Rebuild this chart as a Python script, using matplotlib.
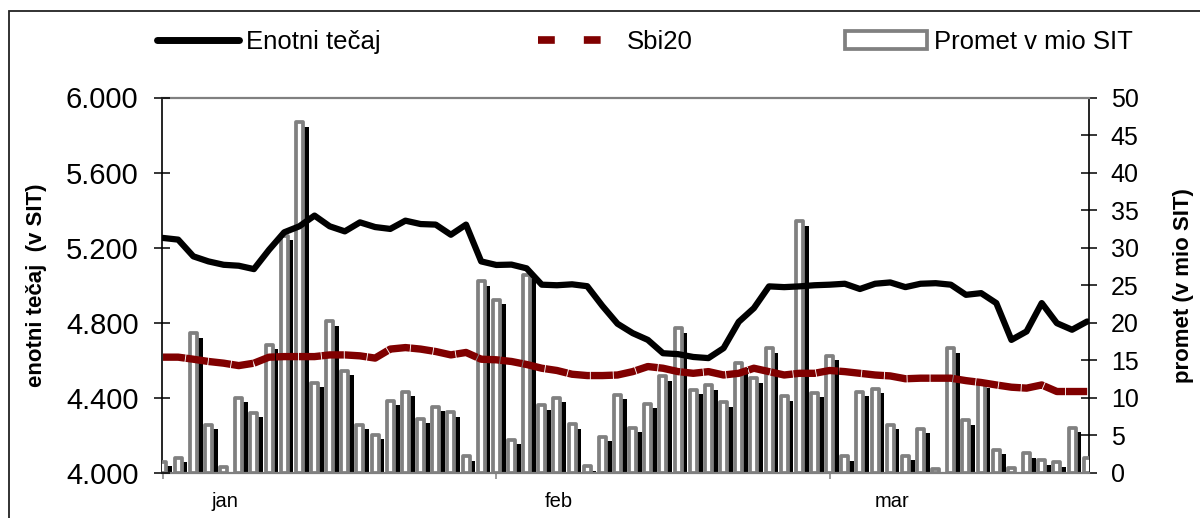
import numpy as np
import matplotlib
matplotlib.use("Agg")
import matplotlib.pyplot as plt
from matplotlib.lines import Line2D
from matplotlib.patches import Rectangle
from matplotlib.ticker import FuncFormatter

plt.rcParams['font.family'] = ['Liberation Sans', 'DejaVu Sans']

# ---------------- data (62 trading days, Jan-Mar) ----------------
month_labels = ["jan", "feb", "mar"]
month_start_idx = [0, 22, 44]

enotni_tecaj = [5252, 5243, 5154, 5127, 5109, 5104, 5086, 5189, 5282, 5314,
                5371, 5314, 5287, 5335, 5310, 5300, 5344, 5326, 5323, 5269,
                5323, 5127, 5108, 5110, 5090, 5003, 5000, 5005, 4995, 4890,
                4795, 4745, 4709, 4638, 4633, 4618, 4612, 4665, 4805, 4878,
                4994, 4990, 4994, 5000, 5003, 5008, 4980, 5008, 5015, 4990,
                5008, 5011, 5003, 4949, 4958, 4905, 4709, 4754, 4905, 4798,
                4763, 4807]

sbi20 = [4617, 4617, 4606, 4594, 4585, 4572, 4585, 4617, 4620, 4620,
         4620, 4629, 4629, 4624, 4612, 4660, 4668, 4660, 4647, 4629,
         4642, 4606, 4603, 4594, 4578, 4558, 4546, 4526, 4519, 4519,
         4522, 4540, 4567, 4558, 4540, 4531, 4540, 4522, 4531, 4558,
         4540, 4522, 4531, 4531, 4546, 4540, 4531, 4522, 4517, 4502,
         4505, 4505, 4505, 4492, 4482, 4469, 4457, 4452, 4469, 4434,
         4434, 4434]

promet = [1.5, 2.0, 18.6, 6.4, 0.75, 10.0, 8.0, 17.1, 31.6, 46.7,
          12.0, 20.2, 13.6, 6.4, 5.1, 9.6, 10.8, 7.2, 8.8, 8.1,
          2.2, 25.5, 23.1, 4.4, 26.4, 9.0, 10.0, 6.5, 0.9, 4.8,
          10.4, 6.0, 9.2, 12.9, 19.3, 11.1, 11.7, 9.4, 14.6, 12.6,
          16.6, 10.2, 33.5, 10.7, 15.6, 2.2, 10.8, 11.2, 6.4, 2.3,
          5.9, 0.5, 16.6, 7.0, 11.9, 3.1, 0.6, 2.6, 1.7, 1.4,
          6.0, 2.0]

series_names = ["Enotni tečaj", "Sbi20", "Promet v mio SIT"]
left_label = "enotni tečaj  (v SIT)"
right_label = "promet (v mio SIT)"

# ---------------- figure ----------------
W, H = 1200, 518
fig = plt.figure(figsize=(W / 100, H / 100), dpi=100)
fig.patch.set_facecolor("white")

x0, x1, ytop, ybot = 161.5, 1089.3, 97.5, 473.0
ax = fig.add_axes([x0 / W, 1 - ybot / H, (x1 - x0) / W, (ybot - ytop) / H])
ax2 = ax.twinx()

x = np.arange(len(promet))
vol = np.array(promet)

# bars (secondary axis, drawn first): black shadow + gray outlined white bar
ax.bar(x + 0.36, np.maximum(vol - 0.6, 0), width=0.5, color="black",
       linewidth=0, zorder=2)
ax.bar(x, vol, width=0.46, color="white", edgecolor="#808080",
       linewidth=2.7, joinstyle="round", zorder=3)

ax.set_xlim(-0.1, 61.14)
ax.set_ylim(0, 50)
ax.yaxis.tick_right()
ax.yaxis.set_label_position("right")
ax.set_yticks(np.arange(0, 51, 5))
ax.set_yticks([10, 20, 30, 40], minor=True)
ax.grid(which="minor", axis="y", color="#e0e0e0", linewidth=1.4)
ax.set_axisbelow(True)
ax.tick_params(axis="y", which="major", direction="inout", length=12,
               width=1.1, labelsize=18, pad=9.5, colors="black")
ax.tick_params(axis="y", which="minor", length=0)

ax.set_xticks(month_start_idx, labels=["", "", ""])
ax.set_xticks([m + 4.1 for m in month_start_idx], labels=month_labels, minor=True)
ax.tick_params(axis="x", which="major", direction="inout", length=8,
               width=1.1, color="#808080")
ax.tick_params(axis="x", which="minor", length=0, labelsize=14.5, pad=14)

for side in ["left", "right"]:
    ax.spines[side].set_color("black")
    ax.spines[side].set_linewidth(1.2)
for side in ["top", "bottom"]:
    ax.spines[side].set_color("#808080")
    ax.spines[side].set_linewidth(1.6)

# lines (primary axis on the left, drawn on top)
ax2.plot(x, sbi20, color="#800000", linewidth=5.3, dashes=(3.0, 0.12),
         solid_joinstyle="round", zorder=4)
ax2.plot(x, enotni_tecaj, color="black", linewidth=4.5,
         solid_joinstyle="round", solid_capstyle="round", zorder=5)
ax2.set_ylim(4000, 6000)
ax2.yaxis.tick_left()
ax2.yaxis.set_label_position("left")
ax2.set_yticks(np.arange(4000, 6001, 400))
ax2.yaxis.set_major_formatter(FuncFormatter(lambda v, p: f"{int(v):,}".replace(",", ".")))
ax2.tick_params(axis="y", direction="inout", length=12, width=1.1,
                labelsize=21, pad=10.5, colors="black")
for s in ax2.spines.values():
    s.set_visible(False)

# axis titles
ax2.set_ylabel(left_label, fontsize=16, fontweight="bold", va="center")
ax2.yaxis.set_label_coords((37 - x0) / (x1 - x0), 0.5)
ax.set_ylabel(right_label, fontsize=16, fontweight="bold", va="center",
              rotation=90)
ax.yaxis.set_label_coords((1183 - x0) / (x1 - x0), 0.5)

# legends (three separately anchored entries in one row)
fs = 18.5
h_line = Line2D([], [], color="black", linewidth=5, solid_capstyle="round")
h_red = Line2D([], [], color="#800000", linewidth=5.5, dashes=(2.2, 3.8))
h_bar = Rectangle((0, 0), 1, 1, facecolor="white", edgecolor="#808080",
                  linewidth=2.7, joinstyle="round")
ly = 1 - 42 / H
for handle, name, lx in [(h_line, series_names[0], 157),
                         (h_red, series_names[1], 538),
                         (h_bar, series_names[2], 845)]:
    fig.legend([handle], [name], loc="center left",
               bbox_to_anchor=(lx / W, ly), frameon=False,
               fontsize=fs, handlelength=3.2, handletextpad=0.25,
               borderpad=0, borderaxespad=0)

# outer chart frame
fig.add_artist(Rectangle((9 / W, -0.05), 1.2, 1 - 11 / H + 0.05,
                         transform=fig.transFigure, fill=False,
                         edgecolor="#222222", linewidth=1.3, clip_on=False))

fig.savefig("out.png", dpi=100, facecolor="white")
